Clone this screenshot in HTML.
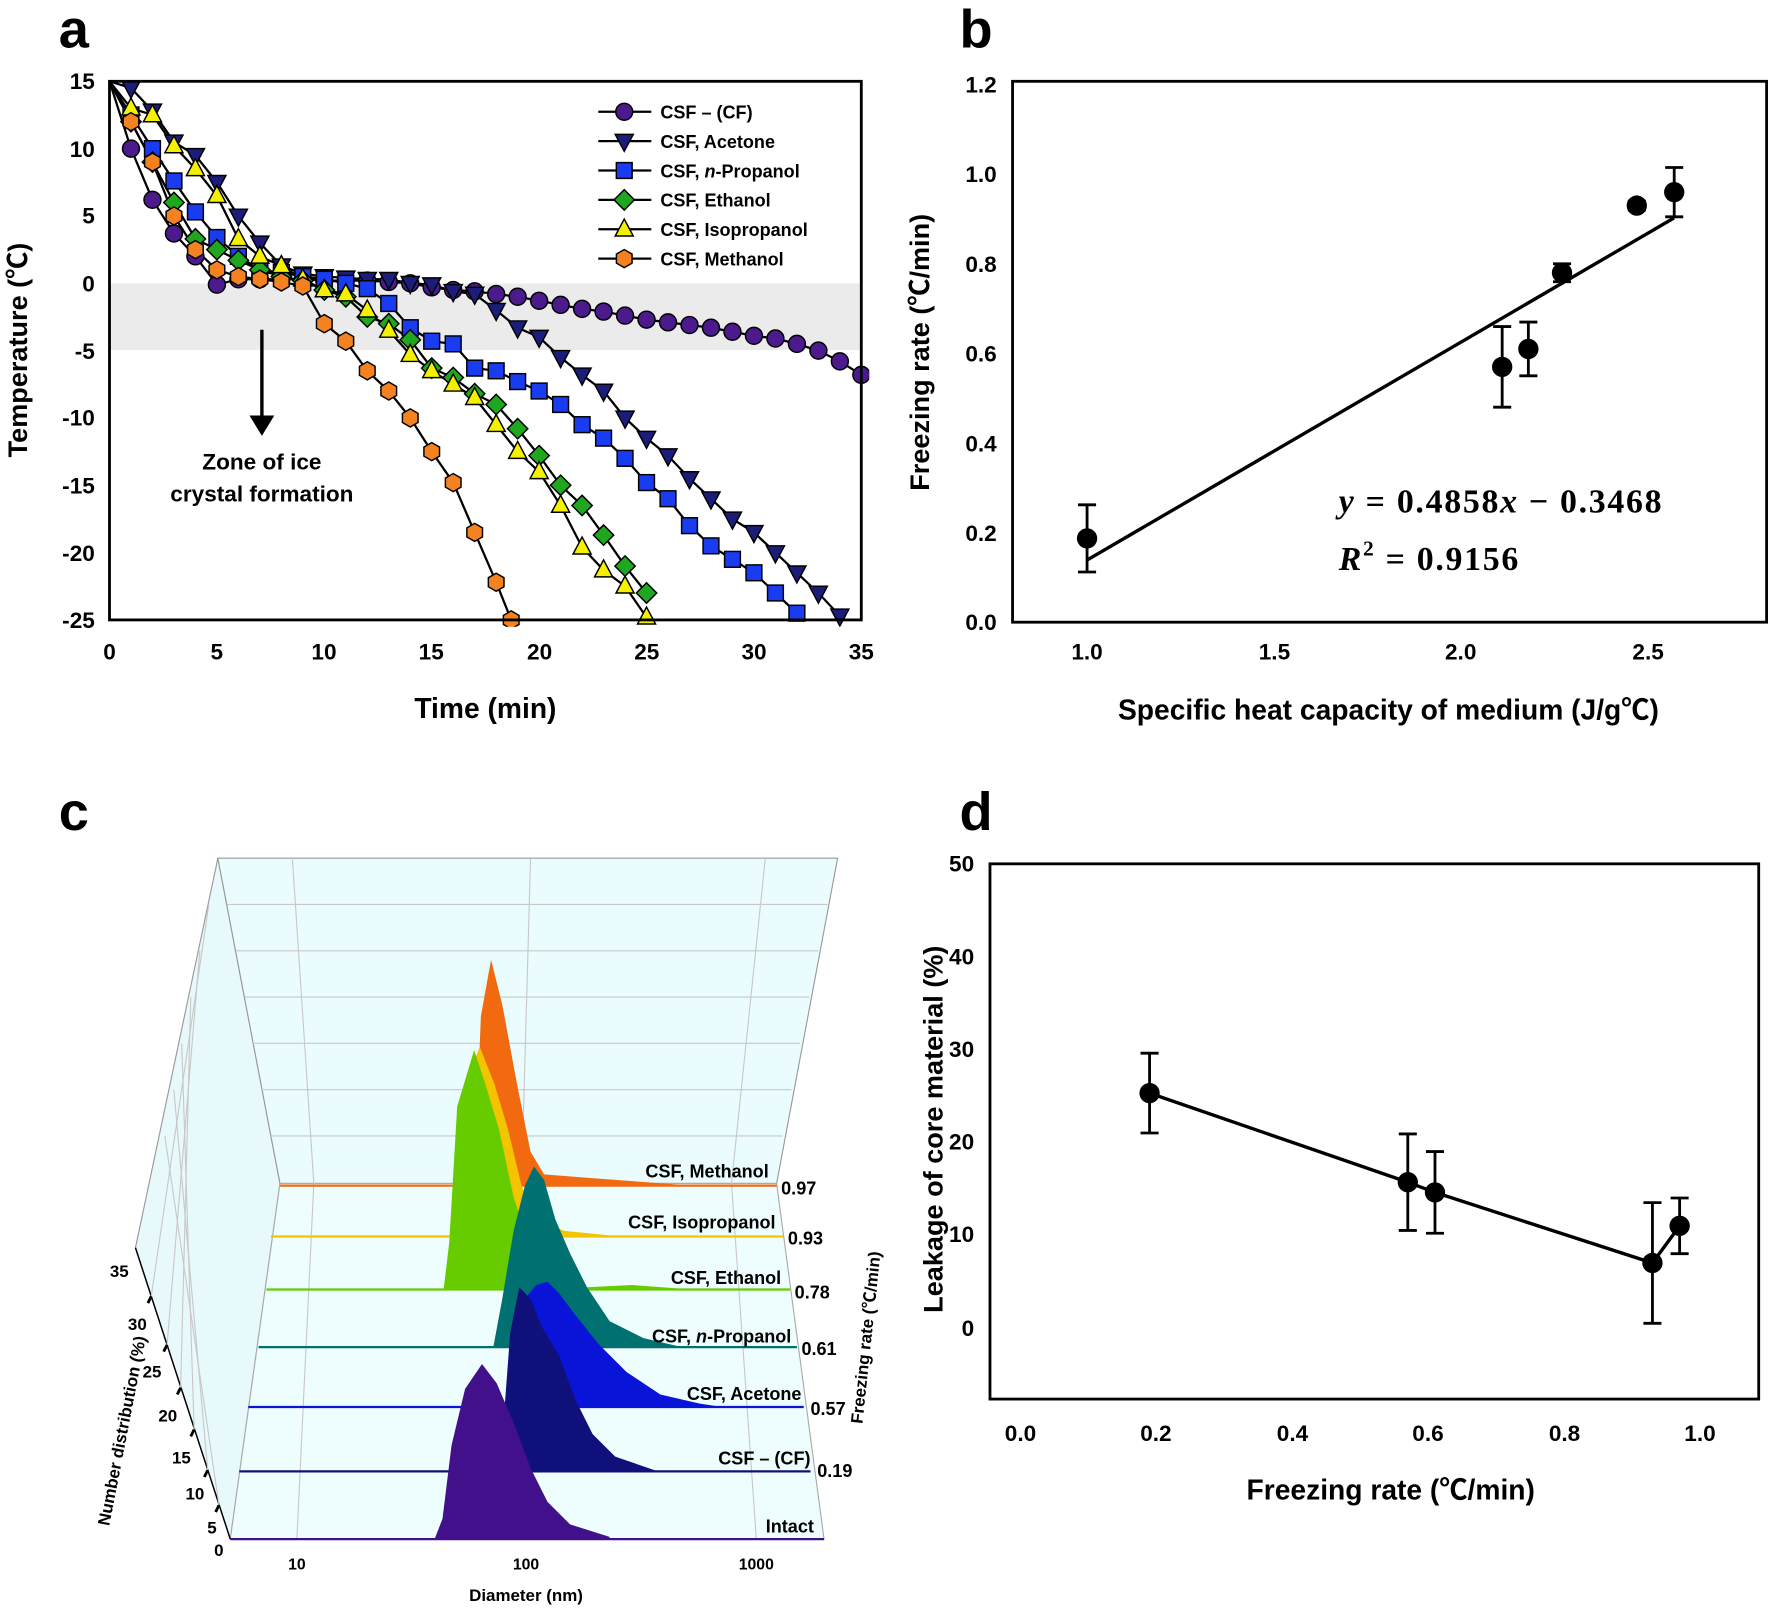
<!DOCTYPE html>
<html><head><meta charset="utf-8"><style>
html,body{margin:0;padding:0;background:#fff}
svg{display:block}
text{font-family:"Liberation Sans","Noto Sans CJK SC",sans-serif;font-weight:bold;fill:#000}
</style></head><body>
<svg id="s" width="1770" height="1617" viewBox="0 0 1568 1432" preserveAspectRatio="none" xmlns="http://www.w3.org/2000/svg">
<rect width="1568" height="1432" fill="#fff"/>
<text x="52" y="42" font-size="48">a</text>
<text x="850" y="42" font-size="48">b</text>
<text x="52" y="735" font-size="48">c</text>
<text x="850" y="735" font-size="48">d</text>

<!-- Panel a -->
<rect x="97" y="251" width="666" height="59" fill="#ebebeb"/>
<g id="aser"></g>
<rect x="97" y="72" width="666" height="477" fill="none" stroke="#000" stroke-width="2.5"/>
<g font-size="20" text-anchor="end">
<text x="84" y="79">15</text><text x="84" y="139">10</text><text x="84" y="198">5</text><text x="84" y="258">0</text>
<text x="84" y="318">-5</text><text x="84" y="377">-10</text><text x="84" y="437">-15</text><text x="84" y="497">-20</text><text x="84" y="556">-25</text>
</g>
<g font-size="20" text-anchor="middle">
<text x="97" y="584">0</text><text x="192" y="584">5</text><text x="287" y="584">10</text><text x="382" y="584">15</text>
<text x="478" y="584">20</text><text x="573" y="584">25</text><text x="668" y="584">30</text><text x="763" y="584">35</text>
</g>
<text x="430" y="636" font-size="25" text-anchor="middle">Time (min)</text>
<text transform="translate(24,310) rotate(-90)" font-size="24" text-anchor="middle">Temperature (℃)</text>
<line x1="232" y1="292" x2="232" y2="372" stroke="#000" stroke-width="3"/>
<polygon points="221,368 243,368 232,386" fill="#000"/>
<text x="232" y="416" font-size="20" text-anchor="middle" font-weight="normal">Zone of ice</text>
<text x="232" y="444" font-size="20" text-anchor="middle" font-weight="normal">crystal formation</text>
<g id="aleg" font-size="16"></g>

<!-- Panel b -->
<rect x="897" y="72" width="668" height="479" fill="none" stroke="#000" stroke-width="2.5"/>
<g font-size="20" text-anchor="end">
<text x="883" y="82">1.2</text><text x="883" y="161">1.0</text><text x="883" y="241">0.8</text><text x="883" y="320">0.6</text>
<text x="883" y="400">0.4</text><text x="883" y="479">0.2</text><text x="883" y="558">0.0</text>
</g>
<g font-size="20" text-anchor="middle">
<text x="963" y="584">1.0</text><text x="1129" y="584">1.5</text><text x="1294" y="584">2.0</text><text x="1460" y="584">2.5</text>
</g>
<text x="1230" y="637" font-size="25" text-anchor="middle">Specific heat capacity of medium (J/g℃)</text>
<text transform="translate(823,312) rotate(-90)" font-size="24" text-anchor="middle">Freezing rate (℃/min)</text>
<line x1="963" y1="496" x2="1483" y2="193" stroke="#000" stroke-width="3"/>
<g id="bpts"></g>
<text x="1186" y="454" font-size="30" letter-spacing="1.5" style="font-family:'Liberation Serif',serif"><tspan font-style="italic">y</tspan> = 0.4858<tspan font-style="italic">x</tspan>  − 0.3468</text>
<text x="1186" y="505" font-size="30" letter-spacing="1.5" style="font-family:'Liberation Serif',serif"><tspan font-style="italic">R</tspan><tspan font-size="19" dy="-13">2</tspan><tspan dy="13"> = 0.9156</tspan></text>

<!-- Panel d -->
<rect x="877" y="765" width="681" height="474" fill="none" stroke="#000" stroke-width="2.5"/>
<g font-size="20" text-anchor="end">
<text x="863" y="772">50</text><text x="863" y="854">40</text><text x="863" y="936">30</text><text x="863" y="1018">20</text>
<text x="863" y="1100">10</text><text x="863" y="1183">0</text>
</g>
<g font-size="20" text-anchor="middle">
<text x="904" y="1276">0.0</text><text x="1024" y="1276">0.2</text><text x="1145" y="1276">0.4</text><text x="1265" y="1276">0.6</text>
<text x="1386" y="1276">0.8</text><text x="1506" y="1276">1.0</text>
</g>
<text x="1232" y="1328" font-size="25" text-anchor="middle">Freezing rate (℃/min)</text>
<text transform="translate(835,1000) rotate(-90)" font-size="24" text-anchor="middle">Leakage of core material (%)</text>
<g id="dpts"></g>

<!-- Panel c -->
<polygon points="193,760 120,1105 204,1363 248,1048" fill="#e8f9fb" stroke="#999" stroke-width="1"/>
<polygon points="193,760 742,760 688,1048 248,1048" fill="#eafcfd" stroke="#999" stroke-width="1"/>
<polygon points="248,1048 688,1048 730,1363 204,1363" fill="#eefdfd" stroke="#aaa" stroke-width="1"/>
<line x1="120" y1="1105" x2="204" y2="1363" stroke="#000" stroke-width="1.3"/>
<g stroke="#c8c8c8" stroke-width="1" fill="none">
<line x1="259" y1="760" x2="278" y2="1048"/><line x1="470" y1="760" x2="462" y2="1048"/><line x1="678" y1="760" x2="648" y2="1048"/>
<line x1="278" y1="1048" x2="263" y2="1363"/><line x1="462" y1="1048" x2="466" y2="1363"/><line x1="648" y1="1048" x2="670" y2="1363"/>
<line x1="201" y1="801" x2="733" y2="801"/><line x1="209" y1="842" x2="725" y2="842"/><line x1="217" y1="883" x2="717" y2="883"/>
<line x1="224" y1="924" x2="709" y2="924"/><line x1="232" y1="965" x2="701" y2="965"/><line x1="240" y1="1006" x2="693" y2="1006"/>
<line x1="185" y1="801" x2="134" y2="1148"/><line x1="177" y1="842" x2="148" y2="1191"/><line x1="169" y1="883" x2="160" y2="1229"/>
<line x1="161" y1="924" x2="172" y2="1266"/><line x1="154" y1="965" x2="184" y2="1302"/><line x1="146" y1="1006" x2="194" y2="1333"/>
</g>
<g stroke="#000" stroke-width="2.5">
<line x1="134" y1="1148" x2="131" y2="1154"/><line x1="148" y1="1191" x2="145" y2="1197"/><line x1="160" y1="1229" x2="157" y2="1235"/>
<line x1="172" y1="1266" x2="169" y2="1272"/><line x1="184" y1="1302" x2="181" y2="1308"/><line x1="194" y1="1333" x2="191" y2="1339"/>
</g>
<g id="ridges"></g>
<g font-size="16" text-anchor="end">
<text x="681" y="1043">CSF, Methanol</text>
<text x="687" y="1088">CSF, Isopropanol</text>
<text x="692" y="1137">CSF, Ethanol</text>
<text x="701" y="1189">CSF, <tspan font-style="italic">n</tspan>-Propanol</text>
<text x="710" y="1240">CSF, Acetone</text>
<text x="718" y="1297">CSF – (CF)</text>
<text x="721" y="1357">Intact</text>
</g>
<g font-size="16">
<text x="692" y="1058">0.97</text><text x="698" y="1102">0.93</text><text x="704" y="1150">0.78</text>
<text x="710" y="1200">0.61</text><text x="718" y="1253">0.57</text><text x="724" y="1308">0.19</text>
</g>
<text transform="translate(772,1185) rotate(-84)" font-size="15" text-anchor="middle">Freezing rate (℃/min)</text>
<g font-size="15" text-anchor="end">
<text x="114" y="1131">35</text><text x="130" y="1178">30</text><text x="143" y="1220">25</text><text x="157" y="1259">20</text>
<text x="169" y="1296">15</text><text x="181" y="1328">10</text><text x="192" y="1358">5</text><text x="198" y="1378">0</text>
</g>
<text transform="translate(113,1268) rotate(-79)" font-size="15" text-anchor="middle">Number distribution (%)</text>
<g font-size="14" text-anchor="middle">
<text x="263" y="1390">10</text><text x="466" y="1390">100</text><text x="670" y="1390">1000</text>
</g>
<text x="466" y="1418" font-size="15" text-anchor="middle">Diameter (nm)</text>
</svg>
<script>
const NS="http://www.w3.org/2000/svg";
function el(p,t,a){const e=document.createElementNS(NS,t);for(const k in a)e.setAttribute(k,a[k]);p.appendChild(e);return e;}
const X=t=>97+t*19.03, Y=v=>72+(15-v)*11.925;
const series=[
{c:"#4b1a8c",m:"circle",d:[[0,15],[1,10],[2,6.2],[3,3.7],[4,2],[5,-0.1],[6,0.3],[7,0.3],[8,0.3],[9,0.3],[10,0.2],[11,0.2],[12,0.2],[13,0.1],[14,0],[15,-0.3],[16,-0.5],[17,-0.6],[18,-0.8],[19,-1],[20,-1.3],[21,-1.6],[22,-1.9],[23,-2.1],[24,-2.4],[25,-2.7],[26,-2.9],[27,-3.1],[28,-3.3],[29,-3.6],[30,-3.9],[31,-4.1],[32,-4.5],[33,-5],[34,-5.8],[35,-6.8]]},
{c:"#1c1c7a",m:"tri_d",d:[[0,15],[1,14.5],[2,12.8],[3,10.5],[4,9.5],[5,7.5],[6,5],[7,3],[8,1.3],[9,0.7],[10,0.5],[11,0.4],[12,0.3],[13,0.3],[14,0],[15,-0.1],[16,-0.6],[17,-0.8],[18,-2],[19,-3.3],[20,-4],[21,-5.5],[22,-6.8],[23,-8],[24,-10],[25,-11.5],[26,-12.8],[27,-14.5],[28,-16],[29,-17.5],[30,-18.5],[31,-20],[32,-21.5],[33,-23],[34,-24.7]]},
{c:"#1a3cf0",m:"sq",d:[[0,15],[1,12.5],[2,10],[3,7.6],[4,5.3],[5,3.4],[6,2],[7,1],[8,0.8],[9,0.5],[10,0.3],[11,0],[12,-0.4],[13,-1.5],[14,-3.3],[15,-4.3],[16,-4.5],[17,-6.3],[18,-6.5],[19,-7.3],[20,-8],[21,-9],[22,-10.5],[23,-11.5],[24,-13],[25,-14.8],[26,-16],[27,-18],[28,-19.5],[29,-20.5],[30,-21.5],[31,-23],[32,-24.5]]},
{c:"#1fa81f",m:"dia",d:[[0,15],[1,12],[2,9],[3,6],[4,3.3],[5,2.5],[6,1.7],[7,1],[8,0.5],[9,0.2],[10,-0.5],[11,-1],[12,-2.5],[13,-3],[14,-4.2],[15,-6.3],[16,-7],[17,-8.2],[18,-9],[19,-10.8],[20,-12.8],[21,-15],[22,-16.5],[23,-18.7],[24,-21],[25,-23]]},
{c:"#f5f000",m:"tri_u",d:[[0,15],[1,13],[2,12.5],[3,10.2],[4,8.5],[5,6.5],[6,3.3],[7,2],[8,1.3],[9,0.3],[10,-0.5],[11,-0.8],[12,-2],[13,-3.5],[14,-5.3],[15,-6.5],[16,-7.5],[17,-8.5],[18,-10.5],[19,-12.5],[20,-14],[21,-16.5],[22,-19.6],[23,-21.3],[24,-22.5],[25,-24.8]]},
{c:"#f58220",m:"hex",d:[[0,15],[1,12],[2,9],[3,5],[4,2.5],[5,1],[6,0.5],[7,0.3],[8,0.1],[9,-0.2],[10,-3],[11,-4.3],[12,-6.5],[13,-8],[14,-10],[15,-12.5],[16,-14.8],[17,-18.5],[18,-22.2],[18.7,-25]]}];
function marker(g,m,x,y,c){const a={fill:c,stroke:"#000","stroke-width":1.3};
 if(m=="circle")el(g,"circle",Object.assign({cx:x,cy:y,r:7.5},a));
 else if(m=="sq")el(g,"rect",Object.assign({x:x-7,y:y-7,width:14,height:14},a));
 else if(m=="dia")el(g,"polygon",Object.assign({points:`${x},${y-9} ${x+9},${y} ${x},${y+9} ${x-9},${y}`},a));
 else if(m=="tri_u")el(g,"polygon",Object.assign({points:`${x},${y-9} ${x+8},${y+6} ${x-8},${y+6}`},a));
 else if(m=="tri_d")el(g,"polygon",Object.assign({points:`${x},${y+9} ${x+8},${y-6} ${x-8},${y-6}`},a));
 else {let p=[];for(let i=0;i<6;i++){const an=Math.PI/6+i*Math.PI/3;p.push((x+8*Math.cos(an))+","+(y+8*Math.sin(an)));}el(g,"polygon",Object.assign({points:p.join(" ")},a));}}
const ga=document.getElementById("aser");
const clip=el(document.getElementById("s"),"clipPath",{id:"ca"});el(clip,"rect",{x:90,y:65,width:680,height:490});
ga.setAttribute("clip-path","url(#ca)");
series.forEach(s=>{el(ga,"polyline",{points:s.d.map(p=>X(p[0])+","+Y(p[1])).join(" "),fill:"none",stroke:"#000","stroke-width":2});});
series.forEach(s=>{s.d.forEach(p=>{if(p[0]>0)marker(ga,s.m,X(p[0]),Y(p[1]),s.c);});});
const lg=document.getElementById("aleg");
const names=["CSF – (CF)","CSF, Acetone","","CSF, Ethanol","CSF, Isopropanol","CSF, Methanol"];
series.forEach((s,i)=>{const y=99+i*26;el(lg,"line",{x1:530,y1:y,x2:577,y2:y,stroke:"#000","stroke-width":2});marker(lg,s.m,553,y,s.c);
 const t=el(lg,"text",{x:585,y:y+6});if(i==2){t.innerHTML='CSF, <tspan font-style="italic">n</tspan>-Propanol';}else t.textContent=names[i];});
function pts(id,data,fx,fy){const g=document.getElementById(id);data.forEach(p=>{const x=fx(p[0]);
 el(g,"line",{x1:x,y1:fy(p[1]-p[2]),x2:x,y2:fy(p[1]+p[2]),stroke:"#000","stroke-width":2.5});
 [p[1]-p[2],p[1]+p[2]].forEach(v=>el(g,"line",{x1:x-8,y1:fy(v),x2:x+8,y2:fy(v),stroke:"#000","stroke-width":2.5}));
 el(g,"circle",{cx:x,cy:fy(p[1]),r:9,fill:"#000"});});}
pts("bpts",[[1,0.187,0.075],[2.11,0.57,0.09],[2.18,0.61,0.06],[2.27,0.78,0.02],[2.47,0.93,0.01],[2.57,0.96,0.055]],x=>963+(x-1)*331.3,v=>551-v*396.7);
const dx=x=>904+x*602,dy=v=>1176-v*8.22;
const dd=[[0.19,25.3,4.3],[0.57,15.7,5.2],[0.61,14.6,4.4],[0.93,7,6.5],[0.97,11,3]];
el(document.getElementById("dpts"),"polyline",{points:dd.map(p=>dx(p[0])+","+dy(p[1])).join(" "),fill:"none",stroke:"#000","stroke-width":3});
pts("dpts",dd,dx,dy);
const rg=document.getElementById("ridges");
const R=[
 {c:"#f26a10",y:1050,x0:248,x1:688,p:"420,1050 426,900 435,850 445,890 458,960 470,1020 482,1040 520,1043 560,1046 600,1049"},
 {c:"#f5c400",y:1095,x0:240,x1:694,p:"398,1095 405,1075 412,960 425,927 438,960 450,1000 462,1050 475,1080 500,1090 540,1094"},
 {c:"#66cc00",y:1142,x0:236,x1:700,p:"393,1142 398,1100 405,980 420,930 430,960 442,1000 455,1060 468,1100 480,1130 520,1140 560,1138 600,1141"},
 {c:"#007070",y:1193,x0:229,x1:706,p:"437,1193 445,1150 455,1090 465,1050 473,1033 482,1045 492,1080 505,1110 520,1140 540,1170 570,1185 600,1192"},
 {c:"#0a14d8",y:1246,x0:220,x1:712,p:"447,1246 455,1200 465,1150 475,1138 485,1135 495,1145 510,1165 530,1190 555,1215 585,1235 620,1243 640,1246"},
 {c:"#10107a",y:1303,x0:212,x1:718,p:"440,1303 446,1260 452,1180 460,1140 470,1150 480,1175 495,1200 510,1240 525,1270 545,1290 580,1302"},
 {c:"#42108a",y:1363,x0:204,x1:730,p:"385,1363 392,1345 400,1280 412,1230 427,1208 440,1225 455,1260 470,1300 485,1330 505,1350 540,1361"}];
R.forEach(r=>{el(rg,"polygon",{points:r.p+" "+r.p.split(" ").slice(-1)[0].split(",")[0]+","+r.y,fill:r.c});
 el(rg,"line",{x1:r.x0,y1:r.y,x2:r.x1,y2:r.y,stroke:r.c,"stroke-width":2});});
</script>
</body></html>
